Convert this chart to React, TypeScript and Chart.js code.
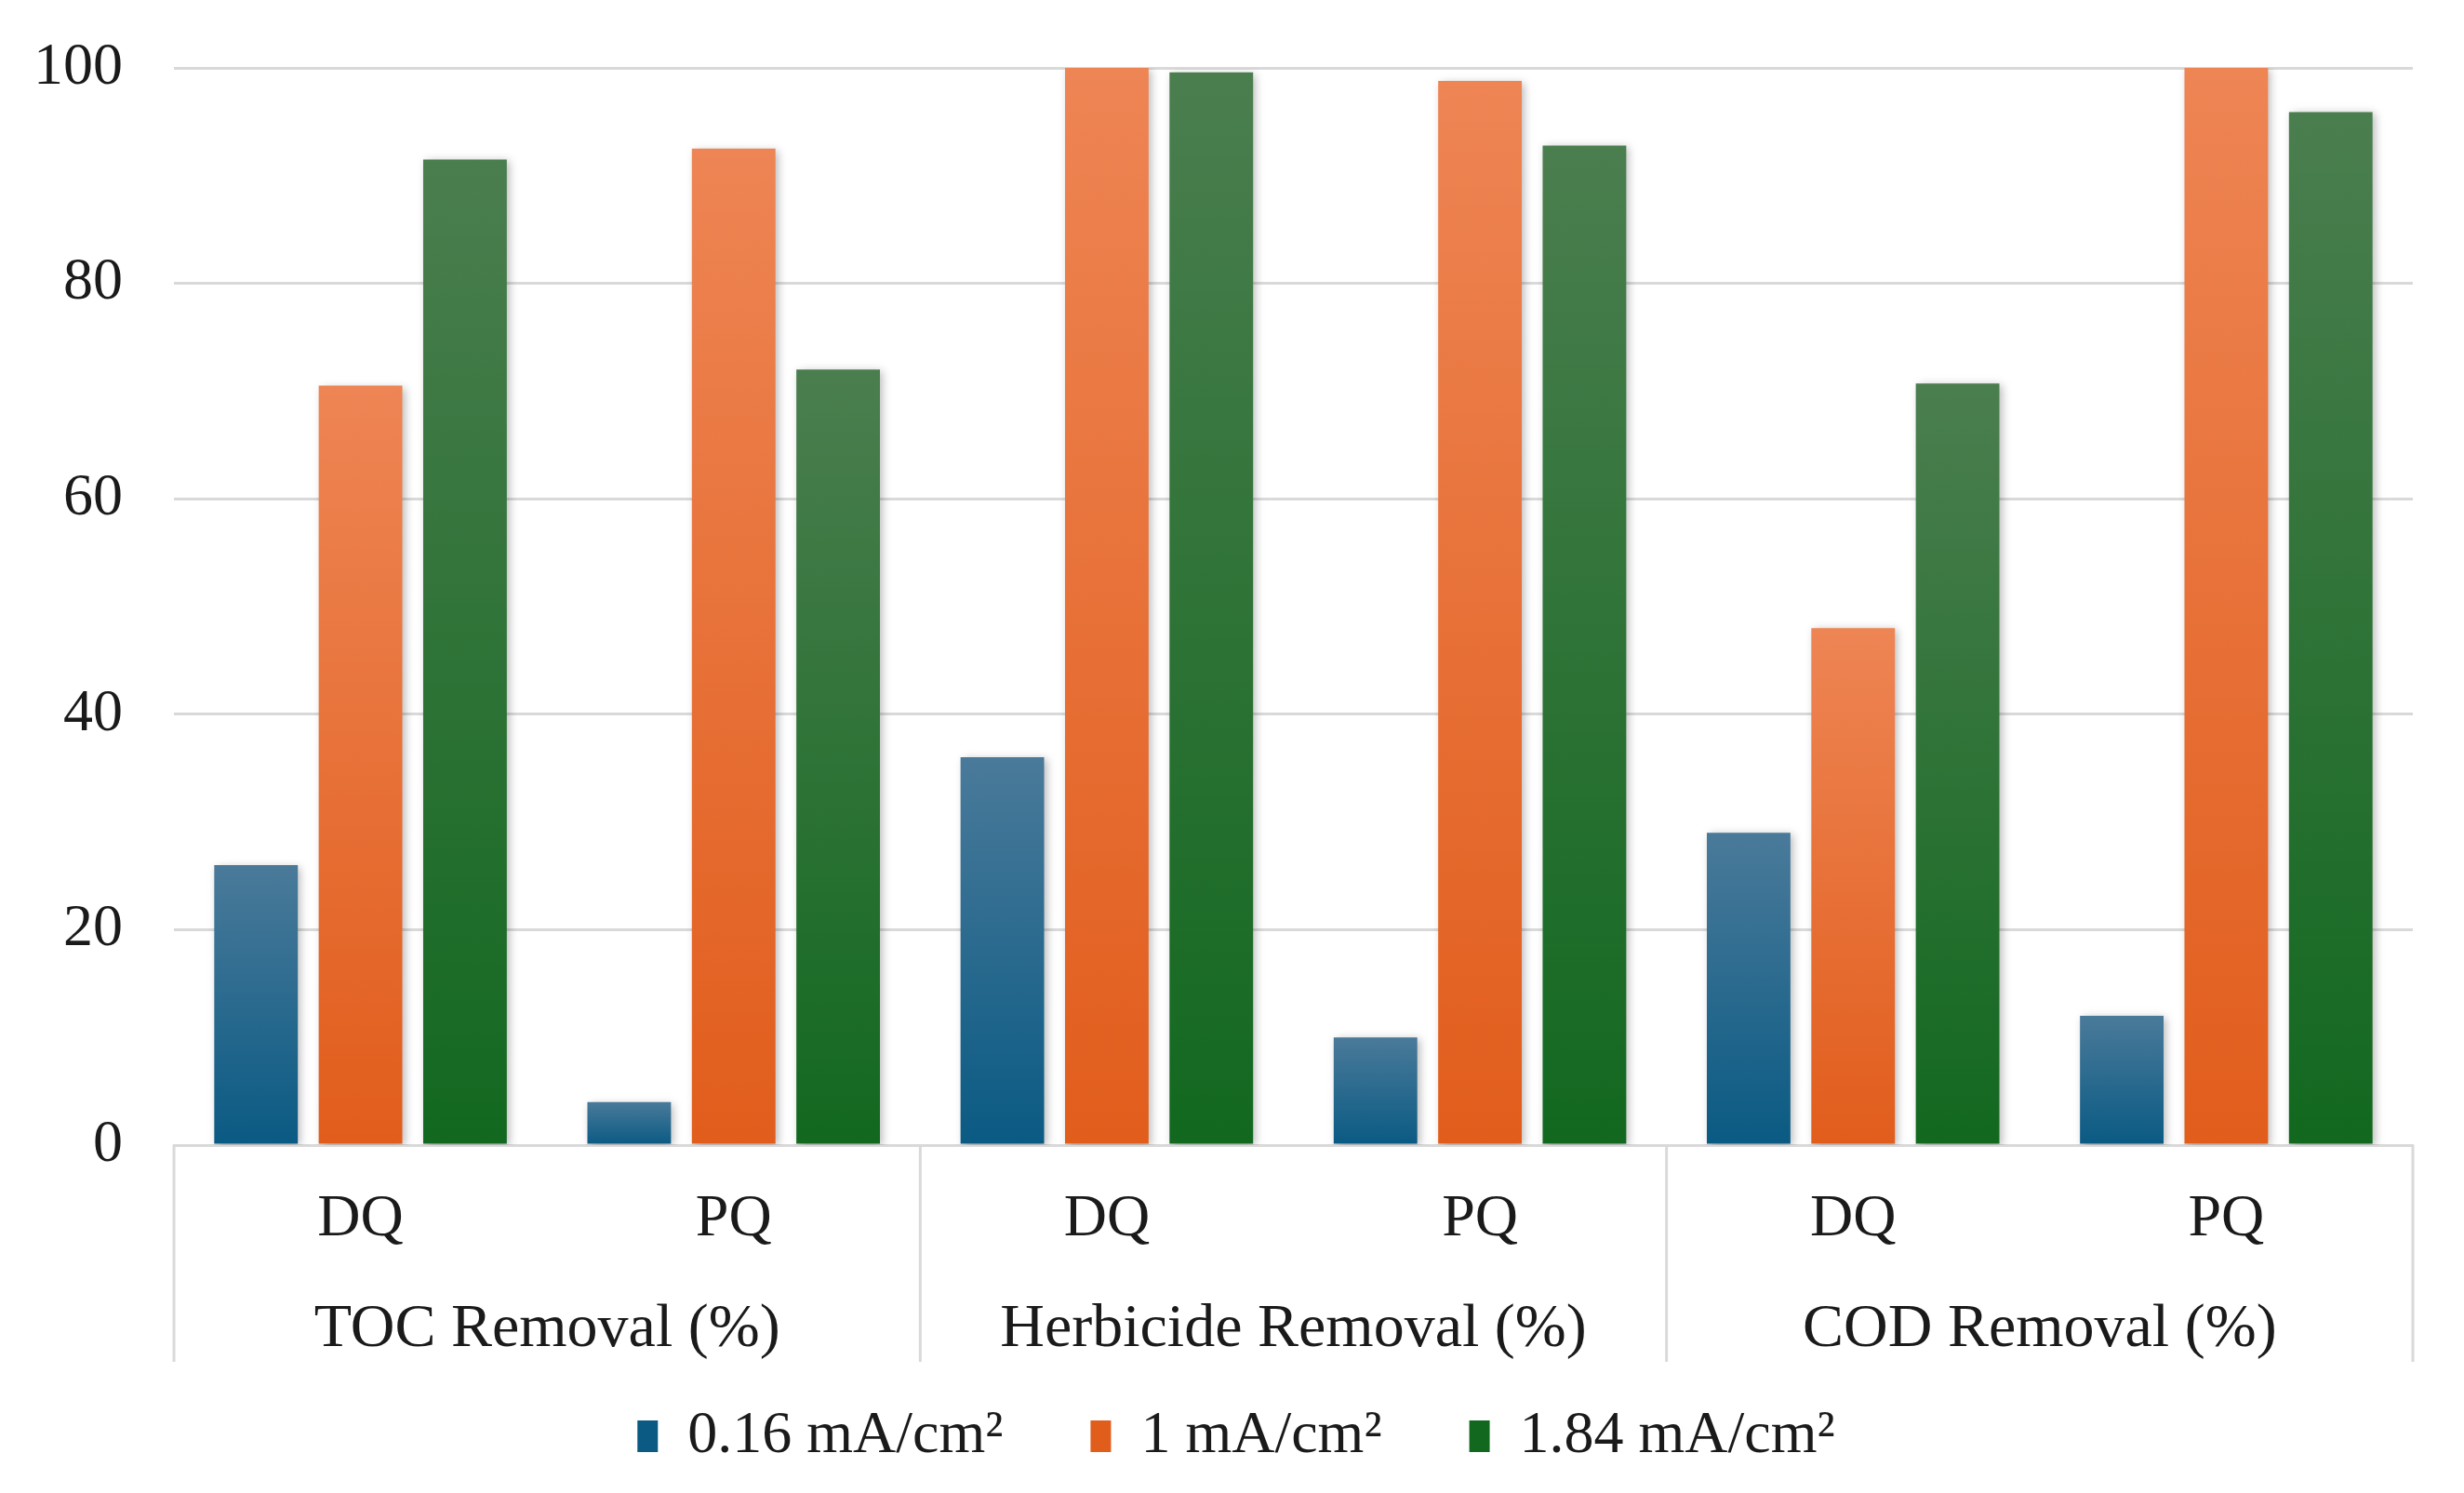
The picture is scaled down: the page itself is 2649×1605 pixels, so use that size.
import React, { useEffect, useRef } from "react";
import { Chart, registerables } from "chart.js";

Chart.register(...registerables);

const categories = ["DQ", "PQ", "DQ", "PQ", "DQ", "PQ"];
const groupLabels = ["TOC Removal (%)", "Herbicide Removal (%)", "COD Removal (%)"];
const seriesNames = ["0.16 mA/cm²", "1 mA/cm²", "1.84 mA/cm²"];
const series016 = [26, 4, 36, 10, 29, 12];
const series1 = [70.5, 92.5, 100, 98.8, 48, 100];
const series184 = [91.5, 72, 99.6, 92.8, 70.7, 95.9];
const yTicks = [0, 20, 40, 60, 80, 100];

const W = 2649;
const H = 1605;
const FONT = "'Liberation Serif', 'Times New Roman', serif";
const TEXT = "#1a1a1a";
const GRID = "#d9d9d9";
const LEGEND_SHIFT = 32;

const palettes = [
  { top: "#4a7a9a", bottom: "#0a5a83", mid: "#1f6690" },
  { top: "#ee8554", bottom: "#e15d1c", mid: "#ec6e2e" },
  { top: "#4b7e4f", bottom: "#12681f", mid: "#1f7029" },
];

function gradientFor(idx: number) {
  return (ctx: any) => {
    const p = palettes[idx];
    const chart = ctx.chart;
    if (!chart.chartArea || ctx.raw === undefined || ctx.raw === null) return p.mid;
    const y = chart.scales.y;
    const top = y.getPixelForValue(ctx.raw);
    const base = y.getPixelForValue(0);
    if (!isFinite(top) || !isFinite(base) || Math.abs(base - top) < 1) return p.mid;
    const g = chart.ctx.createLinearGradient(0, top, 0, base);
    g.addColorStop(0, p.top);
    g.addColorStop(1, p.bottom);
    return g;
  };
}

const shadowPlugin = {
  id: "barShadow",
  beforeDatasetsDraw(chart: any) {
    const c = chart.ctx;
    c.save();
    c.shadowColor = "rgba(0,0,0,0.28)";
    c.shadowBlur = 9;
    c.shadowOffsetX = 3;
    c.shadowOffsetY = 2;
  },
  afterDatasetsDraw(chart: any) {
    chart.ctx.restore();
  },
};

const legendShiftPlugin = {
  id: "legendShift",
  afterLayout(chart: any) {
    const lg = chart.legend;
    if (lg) {
      lg.left += LEGEND_SHIFT;
      lg.right += LEGEND_SHIFT;
    }
  },
};

const groupAxisPlugin = {
  id: "groupAxis",
  afterDraw(chart: any) {
    const c = chart.ctx;
    const x = chart.scales.x;
    const area = chart.chartArea;
    const sepBottom = area.bottom + 233;
    const labelY = area.bottom + 199;
    const bounds: number[] = [area.left];
    for (let g = 1; g < groupLabels.length; g++) {
      const i = g * 2;
      bounds.push((x.getPixelForValue(i - 1) + x.getPixelForValue(i)) / 2);
    }
    bounds.push(area.right);
    c.save();
    c.strokeStyle = GRID;
    c.lineWidth = 3;
    bounds.forEach((bx) => {
      c.beginPath();
      c.moveTo(bx, area.bottom);
      c.lineTo(bx, sepBottom);
      c.stroke();
    });
    c.fillStyle = TEXT;
    c.font = `66px ${FONT}`;
    c.textAlign = "center";
    c.textBaseline = "middle";
    groupLabels.forEach((lab, g) => {
      const cx = (x.getPixelForValue(g * 2) + x.getPixelForValue(g * 2 + 1)) / 2;
      c.fillText(lab, cx, labelY);
    });
    c.restore();
  },
};

const whiteBg = {
  id: "whiteBg",
  beforeDraw(chart: any) {
    const c = chart.ctx;
    c.save();
    c.fillStyle = "#ffffff";
    c.fillRect(0, 0, chart.width, chart.height);
    c.restore();
  },
};

export default function App() {
  const ref = useRef<HTMLCanvasElement | null>(null);
  useEffect(() => {
    if (!ref.current) return;
    const chart = new Chart(ref.current, {
      type: "bar",
      data: {
        labels: categories,
        datasets: [series016, series1, series184].map((d, i) => ({
          label: seriesNames[i],
          data: d,
          backgroundColor: gradientFor(i),
          borderWidth: 0,
          categoryPercentage: 0.84,
          barPercentage: 0.8,
        })),
      },
      options: {
        animation: false,
        responsive: false,
        devicePixelRatio: 1,
        layout: { padding: { top: 73, right: 55, bottom: 19, left: 0 } },
        plugins: {
          tooltip: { enabled: false },
          legend: {
            position: "bottom",
            labels: {
              font: { family: FONT, size: 64 },
              color: TEXT,
              boxWidth: 22,
              boxHeight: 34,
              padding: 94,
            },
          },
        },
        scales: {
          x: {
            grid: { display: false, drawTicks: false },
            border: { display: true, color: GRID, width: 3 },
            ticks: {
              font: { family: FONT, size: 64 },
              color: TEXT,
              padding: 42,
              maxRotation: 0,
            },
            afterFit: (s: any) => {
              s.height = 187;
            },
          },
          y: {
            min: 0,
            max: 100,
            afterBuildTicks: (s: any) => {
              s.ticks = yTicks.map((v) => ({ value: v }));
            },
            grid: {
              color: GRID,
              lineWidth: 3,
              drawTicks: true,
              tickLength: 55,
              tickColor: "rgba(0,0,0,0)",
            },
            border: { display: false },
            ticks: {
              font: { family: FONT, size: 64 },
              color: TEXT,
              padding: 0,
            },
            afterFit: (s: any) => {
              s.width = 187;
            },
          },
        },
      },
      plugins: [whiteBg, legendShiftPlugin, shadowPlugin, groupAxisPlugin],
    } as any);
    return () => chart.destroy();
  }, []);
  return (
    <div style={{ position: "fixed", left: 0, top: 0, width: W, height: H, background: "#fff" }}>
      <canvas ref={ref} width={W} height={H} style={{ width: W, height: H, display: "block" }} />
    </div>
  );
}
